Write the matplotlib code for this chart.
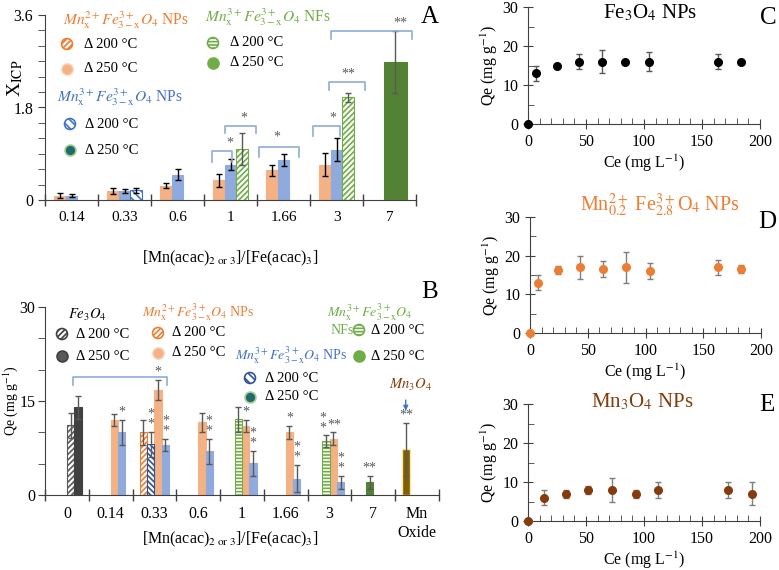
import numpy as np
import matplotlib.pyplot as plt

plt.rcParams['font.family'] = ['Liberation Serif', 'DejaVu Serif']
plt.rcParams['mathtext.fontset'] = 'stix'
plt.rcParams['hatch.linewidth'] = 1.2
plt.rcParams['axes.edgecolor'] = '#404040'
plt.rcParams['xtick.color'] = '#404040'
plt.rcParams['ytick.color'] = '#404040'
plt.rcParams['xtick.labelcolor'] = 'black'
plt.rcParams['ytick.labelcolor'] = 'black'

nan = np.nan

# ---- panel A : X_ICP ----
cats_a = ['0.14', '0.33', '0.6', '1', '1.66', '3', '7']
a_mn2_250 = [0.08, 0.18, 0.28, 0.38, 0.58, 0.69, nan]
a_mn2_250_err = [0.05, 0.06, 0.05, 0.13, 0.11, 0.22, nan]
a_mn3_250 = [0.08, 0.18, 0.49, 0.69, 0.78, 0.98, nan]
a_mn3_250_err = [0.03, 0.04, 0.11, 0.10, 0.11, 0.22, nan]
a_mn3_200 = [nan, 0.19, nan, nan, nan, nan, nan]
a_mn3_200_err = [nan, 0.05, nan, nan, nan, nan, nan]
a_nf_200 = [nan, nan, nan, 1.00, nan, 2.00, nan]
a_nf_200_err = [nan, nan, nan, 0.31, nan, 0.09, nan]
a_nf_250 = [nan, nan, nan, nan, nan, nan, 2.68]
a_nf_250_err = [nan, nan, nan, nan, nan, nan, 0.6]

# ---- panel B : Qe per sample ----
cats_b = ['0', '0.14', '0.33', '0.6', '1', '1.66', '3', '7', 'Mn\nOxide']
b_fe_200 = [11.1, nan, nan, nan, nan, nan, nan, nan, nan]
b_fe_200_err = [2.0, nan, nan, nan, nan, nan, nan, nan, nan]
b_fe_250 = [14.0, nan, nan, nan, nan, nan, nan, nan, nan]
b_fe_250_err = [1.8, nan, nan, nan, nan, nan, nan, nan, nan]
b_mn2_200 = [nan, nan, 10.0, nan, nan, nan, nan, nan, nan]
b_mn2_200_err = [nan, nan, 2.0, nan, nan, nan, nan, nan, nan]
b_mn2_250 = [nan, 12.0, 16.8, 11.6, 11.0, 10.0, 9.0, nan, nan]
b_mn2_250_err = [nan, 1.0, 1.6, 1.5, 1.0, 1.0, 1.0, nan, nan]
b_mn3_200 = [nan, nan, 8.1, nan, nan, nan, nan, nan, nan]
b_mn3_200_err = [nan, nan, 2.0, nan, nan, nan, nan, nan, nan]
b_mn3_250 = [nan, 10.0, 8.0, 7.0, 5.1, 2.6, 2.0, nan, nan]
b_mn3_250_err = [nan, 2.0, 1.0, 2.0, 2.0, 2.2, 1.0, nan, nan]
b_nf_200 = [nan, nan, nan, nan, 12.1, nan, 8.6, nan, nan]
b_nf_200_err = [nan, nan, nan, nan, 2.0, nan, 0.9, nan, nan]
b_nf_250 = [nan, nan, nan, nan, nan, nan, nan, 2.0, nan]
b_nf_250_err = [nan, nan, nan, nan, nan, nan, nan, 1.0, nan]
b_mnox = [nan, nan, nan, nan, nan, nan, nan, nan, 7.3]
b_mnox_err = [nan, nan, nan, nan, nan, nan, nan, nan, 4.2]

# ---- panels C-E : isotherms ----
c_ce = [0, 7, 25, 44, 64, 84, 104, 164, 184]
c_qe = [0, 13, 15, 16, 16, 16, 16, 16, 16]
c_err = [0, 2, 0, 2, 3, 0, 2.5, 2, 0]
d_ce = [0, 7, 24, 43, 63, 83, 104, 163, 183]
d_qe = [0, 13, 16.2, 17, 16.5, 17, 16, 17, 16.5]
d_err = [0, 2, 1, 3, 2, 4, 2, 2, 1]
e_ce = [0, 14, 33, 52, 72, 93, 112, 172, 193]
e_qe = [0, 6, 7, 8, 8, 7, 8, 8, 7]
e_err = [0, 2, 1, 1, 3, 1, 2, 2, 3]

orange_fill = '#F4B183'
orange = '#ED7D31'
blue_fill = '#8FAADC'
blue = '#4472C4'
blue_dark = '#2F5597'
green = '#70AD47'
green_dark = '#548235'
teal = '#1F6B6E'
gray_dark = '#404040'
brown = '#843C0C'

W, H = 779, 570
fig = plt.figure(figsize=(W / 100, H / 100), dpi=100)


def add_ax(x0, y0, x1, y1):
    return fig.add_axes([x0 / W, 1 - y1 / H, (x1 - x0) / W, (y1 - y0) / H])


def bars(ax, vals, errs, offset, width, fc, ec, hatch=None, ecolor='black', lw=0.8):
    v = np.array(vals, float)
    e = np.array(errs, float)
    x = np.arange(len(v)) + offset
    m = ~np.isnan(v)
    ax.bar(x[m], v[m], width, color=fc, edgecolor=ec, hatch=hatch, linewidth=lw, zorder=2)
    ax.errorbar(x[m], v[m], yerr=e[m], fmt='none', ecolor=ecolor, elinewidth=1,
                capsize=2.2, capthick=1, zorder=3)
    return x, v, e


def cat_axis(ax, labels):
    n = len(labels)
    ax.set_xlim(-0.5, n - 0.5)
    ax.set_xticks(np.arange(-0.5, n), labels=[''] * (n + 1))
    ax.set_xticks(np.arange(n), labels=labels, minor=True)
    ax.tick_params(axis='x', which='major', direction='inout', length=8, width=1)
    ax.tick_params(axis='x', which='minor', length=0, labelsize=11, pad=8)
    for s in ['top', 'right']:
        ax.spines[s].set_visible(False)


def bracket(ax, x0, x1, ytop, ybot, color='#8FAADC'):
    ax.plot([x0, x0, x1, x1], [ybot, ytop, ytop, ybot], color=color, lw=1.2,
            clip_on=False, zorder=4)


def star(ax, x, y, s, stacked=False):
    txt = '\n'.join(list(s)) if stacked else s
    ax.text(x, y, txt, ha='center', va='bottom', fontsize=10, color='#595959',
            linespacing=0.7, zorder=5, clip_on=False)


xlab = r'[Mn(acac)$_{2\ \mathrm{or}\ 3}$]/[Fe(acac)$_3$]'

# ================= panel A =================
axA = add_ax(45, 15, 416, 200)
wa = 0.22
bars(axA, a_mn2_250, a_mn2_250_err, -wa, wa, orange_fill, orange_fill)
bars(axA, a_mn3_250, a_mn3_250_err, 0, wa, blue_fill, blue_fill)
bars(axA, a_mn3_200, a_mn3_200_err, wa, wa, 'white', blue, hatch='\\\\\\\\')
bars(axA, a_nf_200, a_nf_200_err, wa, wa, 'white', green, hatch='//////', ecolor='#595959')
bars(axA, a_nf_250, a_nf_250_err, 0.11, 2 * wa, green_dark, green_dark, ecolor='#595959')
cat_axis(axA, cats_a)
axA.set_ylim(0, 3.6)
axA.set_yticks([0, 1.8, 3.6], labels=['0', '1.8', '3.6'])
axA.set_yticks(np.arange(0, 3.61, 0.3), minor=True)
axA.tick_params(axis='y', which='both', direction='out', length=5, labelsize=11.5)
axA.set_xlabel(xlab, fontsize=11.5, va='top')
axA.xaxis.set_label_coords(0.5, -0.265)
axA.set_ylabel(r'X$_{\mathrm{ICP}}$', fontsize=14)
axA.yaxis.set_label_coords(-0.055, 0.66)

# significance brackets (x in category units, y in X_ICP units)
for x0, x1, yt, yb, s, sx, sy in [
        (2.65, 3.03, 0.95, 0.74, '*', 2.99, 0.98),
        (2.90, 3.48, 1.44, 1.30, '*', 3.25, 1.46),
        (3.54, 4.29, 1.03, 0.84, '*', 3.88, 1.10),
        (4.56, 5.07, 1.44, 1.25, '*', 4.93, 1.46),
        (4.86, 5.54, 2.30, 2.14, '**', 5.22, 2.32),
        (4.90, 6.42, 3.29, 3.13, '**', 6.20, 3.31)]:
    bracket(axA, x0, x1, yt, yb)
    star(axA, sx, sy, s)

# ================= panel B =================
axB = add_ax(45, 307, 439, 495)
wb = 0.167
s1, s2, s3, s4 = -1.5 * wb, -0.5 * wb, 0.5 * wb, 1.5 * wb
series_b = {
    'fe200': bars(axB, b_fe_200, b_fe_200_err, s3, wb, 'white', '#595959', '//////', '#595959'),
    'fe250': bars(axB, b_fe_250, b_fe_250_err, s4, wb, gray_dark, gray_dark, None, '#595959'),
    'mn2_200': bars(axB, b_mn2_200, b_mn2_200_err, s1, wb, 'white', orange, '//////', '#595959'),
    'mn2_250': bars(axB, b_mn2_250, b_mn2_250_err, s3, wb, orange_fill, orange_fill, None, '#595959'),
    'mn3_200': bars(axB, b_mn3_200, b_mn3_200_err, s2, wb, 'white', blue_dark, '\\\\\\\\\\\\', '#595959'),
    'mn3_250': bars(axB, b_mn3_250, b_mn3_250_err, s4, wb, blue_fill, blue_fill, None, '#595959'),
    'nf200': bars(axB, b_nf_200, b_nf_200_err, s2, wb, 'white', green, '-----', '#595959'),
    'nf250': bars(axB, b_nf_250, b_nf_250_err, s2, wb, green_dark, green_dark, None, '#595959'),
    'mnox': bars(axB, b_mnox, b_mnox_err, s1, wb, '#7F6000', '#FFE699', None, '#595959', 1.0),
}
cat_axis(axB, cats_b)
axB.tick_params(axis='x', which='minor', pad=8, labelsize=11.5)
axB.set_ylim(0, 30)
axB.set_yticks([0, 15, 30])
axB.set_yticks(np.arange(0, 31, 5), minor=True)
axB.tick_params(axis='y', which='both', direction='out', length=5, labelsize=11.5, pad=2)
axB.set_xlabel(xlab, fontsize=11.5, va='top')
axB.xaxis.set_label_coords(0.47, -0.185)
axB.set_ylabel(r'Qe (mg g$^{-1}$)', fontsize=10)
axB.yaxis.set_label_coords(-0.064, 0.5)

# (series, category, label, stacked, x nudge)
for key, i, s, stacked, dx in [
        ('mn2_250', 2, '*', False, 0), ('mn3_250', 1, '*', False, 0),
        ('mn3_200', 2, '**', True, 0), ('mn3_250', 2, '**', True, 0),
        ('mn3_250', 3, '**', True, 0), ('mn2_250', 4, '*', False, 0),
        ('mn3_250', 4, '**', True, 0), ('mn2_250', 5, '*', False, 0),
        ('mn3_250', 5, '**', True, 0), ('nf200', 6, '**', True, -0.06),
        ('mn2_250', 6, '**', False, 0.03), ('mn3_250', 6, '**', True, 0),
        ('nf250', 7, '**', False, 0), ('mnox', 8, '**', False, 0)]:
    x, v, e = series_b[key]
    star(axB, x[i] + dx, v[i] + e[i] + 0.2, s, stacked)

bracket(axB, 0.14, 2.29, 18.8, 17.5)
axB.annotate('', xy=(7.74, 13.0), xytext=(7.74, 15.6),
             arrowprops=dict(arrowstyle='-|>', color=blue, lw=1, mutation_scale=7),
             annotation_clip=False)
axB.text(7.85, 16.2, r'$Mn_3O_4$', color=brown, fontsize=10.5, ha='center', va='bottom')


# ================= panels C-E =================
def iso(ax, ce, qe, err, color, ecolor):
    ax.errorbar(ce, qe, yerr=err, fmt='o', color=color, ms=5.5, ecolor=ecolor,
                elinewidth=1, capsize=2, capthick=1, clip_on=False, zorder=3)
    ax.set_xlim(0, 200)
    ax.set_ylim(0, 30)
    ax.set_xticks(np.arange(0, 201, 50))
    ax.set_xticks(np.arange(0, 201, 10), minor=True)
    ax.set_yticks(np.arange(0, 31, 10))
    ax.set_yticks(np.arange(0, 31, 5), minor=True)
    ax.tick_params(which='major', direction='inout', length=7, labelsize=11.5)
    ax.tick_params(which='minor', direction='in', length=4)
    for s in ['top', 'right']:
        ax.spines[s].set_visible(False)
    ax.set_xlabel(r'Ce (mg L$^{-1}$)', fontsize=11.5, labelpad=2)
    ax.set_ylabel(r'Qe (mg g$^{-1}$)', fontsize=11.5, labelpad=2)


axC = add_ax(528, 7, 760, 124)
iso(axC, c_ce, c_qe, c_err, 'black', '#595959')
axD = add_ax(530, 217, 761, 333)
iso(axD, d_ce, d_qe, d_err, orange, '#7F7F7F')
axE = add_ax(528, 404, 760, 521)
iso(axE, e_ce, e_qe, e_err, brown, '#7F7F7F')

# ================= overlay: legends, titles, panel letters =================
ov = fig.add_axes([0, 0, 1, 1], zorder=10)
ov.set_xlim(0, W)
ov.set_ylim(H, 0)
ov.axis('off')
ov.patch.set_alpha(0)


def dot(x, y, fc, ec, hatch=None):
    ov.scatter([x], [y], s=62, c=[fc], edgecolors=[ec], hatch=hatch, linewidths=1.2, zorder=11)


def lab(x, y, s, color='black', size=10.5, ha='left', **kw):
    ov.text(x, y, s, color=color, fontsize=size, ha=ha, va='center', **kw)


mn2 = r'$Mn_{\mathrm{x}}^{2+}Fe_{3-\mathrm{x}}^{3+}O_4$'
mn3 = r'$Mn_{\mathrm{x}}^{3+}Fe_{3-\mathrm{x}}^{3+}O_4$'
d200 = 'Δ 200 °C'
d250 = 'Δ 250 °C'

# legend A
lab(63, 20, mn2 + ' NPs', orange, 11.2)
dot(67, 44, 'white', orange, '//////')
lab(84, 44, d200)
dot(67, 69, orange_fill, '#F8CBAD')
lab(84, 69, d250)
lab(57, 97, mn3 + ' NPs', blue, 11.2)
dot(70, 124, 'white', blue, '\\\\\\\\')
lab(85, 124, d200)
dot(70, 150, teal, '#A9D18E')
lab(85, 150, d250)
lab(205, 17, mn3 + ' NFs', green, 11.2)
dot(213, 43, 'white', green, '-----')
lab(230, 43, d200)
dot(213, 63, green, green)
lab(230, 63, d250)

# legend B
lab(87, 315, r'$Fe_3O_4$', 'black', 10.5, ha='center')
dot(62, 334, 'white', '#404040', '//////')
lab(76, 334, d200)
dot(62, 356, '#595959', '#404040')
lab(76, 356, d250)
lab(198, 312, mn2 + ' NPs', orange, 10, ha='center')
dot(158, 333, 'white', orange, '//////')
lab(172, 333, d200)
dot(158, 353, orange_fill, '#F8CBAD')
lab(172, 353, d250)
lab(235, 355, mn3 + ' NPs', blue, 10)
dot(250, 378, 'white', blue_dark, '\\\\\\\\')
lab(265, 378, d200)
dot(250, 397, teal, '#A9D18E')
lab(265, 397, d250)
lab(327, 312, mn3, green, 10)
lab(331, 330, 'NFs', green, 10)
dot(359, 330, 'white', green, '-----')
lab(371, 330, d200)
dot(359, 356, green, green)
lab(371, 356, d250)

# titles and letters
lab(650, 13, r'Fe$_3$O$_4$ NPs', 'black', 15, ha='center')
lab(660, 205, r'Mn$_{0.2}^{2+}$ Fe$_{2.8}^{3+}$O$_4$ NPs', orange, 14.5, ha='center')
lab(642, 402, r'Mn$_3$O$_4$ NPs', brown, 15, ha='center')
for x, y, s in [(430, 17, 'A'), (430, 292, 'B'), (768, 18, 'C'), (767, 222, 'D'), (767, 405, 'E')]:
    lab(x, y, s, 'black', 18, ha='center')

fig.savefig('out.png', dpi=100)
